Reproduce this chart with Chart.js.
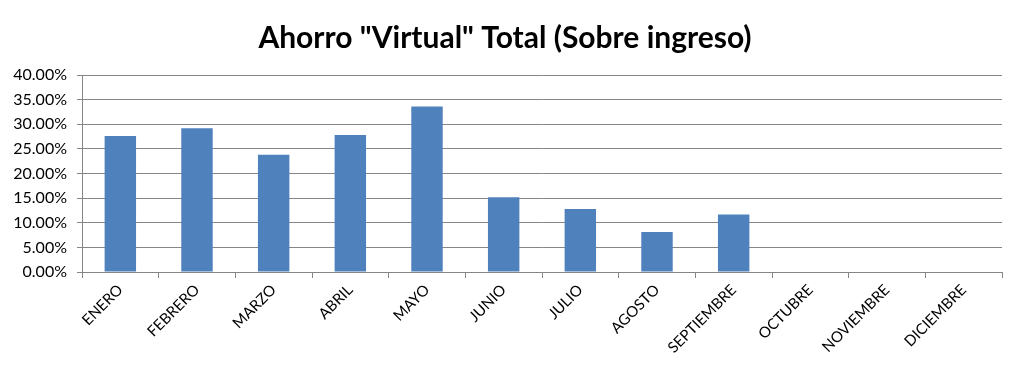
<!DOCTYPE html>
<html>
<head>
    <title>Ahorro Virtual Total</title>
    <script src="https://cdn.jsdelivr.net/npm/chart.js"></script>
    <style>
        html, body { margin: 0; padding: 0; background: #fff; }
        .container { width: 1024px; height: 376px; position: relative; }
    </style>
</head>
<body>
<div class="container">
    <canvas id="barChart" width="1024" height="376"></canvas>
</div>

<script>
    const months = [
        'ENERO', 'FEBRERO', 'MARZO', 'ABRIL', 'MAYO', 'JUNIO',
        'JULIO', 'AGOSTO', 'SEPTIEMBRE', 'OCTUBRE', 'NOVIEMBRE', 'DICIEMBRE'
    ];
    // ahorro en % del ingreso (meses sin dato quedan null)
    const ahorro = [27.6, 29.2, 23.8, 27.8, 33.6, 15.2, 12.8, 8.1, 11.7, null, null, null];
    const yTicks = [0, 5, 10, 15, 20, 25, 30, 35, 40];

    const ctx = document.getElementById('barChart').getContext('2d');

    new Chart(ctx, {
        type: 'bar',
        data: {
            labels: months,
            datasets: [{
                label: 'Ahorro',
                data: ahorro,
                backgroundColor: '#4F81BD',
                borderWidth: 0,
                barPercentage: 0.41,
                categoryPercentage: 1.0
            }]
        },
        options: {
            responsive: false,
            animation: false,
            layout: { padding: { left: 8, right: 22, top: 0, bottom: 0 } },
            plugins: {
                legend: { display: false },
                tooltip: { enabled: false },
                title: {
                    display: true,
                    text: 'Ahorro "Virtual" Total (Sobre ingreso)',
                    color: '#000',
                    font: { family: 'Lato', size: 30, weight: 'bold' },
                    padding: { top: 20, bottom: 19 }
                }
            },
            scales: {
                x: {
                    grid: {
                        drawOnChartArea: false,
                        color: '#868686',
                        tickLength: 6
                    },
                    border: { color: '#868686' },
                    ticks: {
                        color: '#000',
                        font: { family: 'Lato', size: 15 },
                        maxRotation: 45,
                        minRotation: 45,
                        autoSkip: false
                    },
                    afterFit: function (scale) { scale.height = 104; }
                },
                y: {
                    min: 0,
                    max: 40,
                    afterBuildTicks: function (scale) {
                        scale.ticks = yTicks.map(v => ({ value: v }));
                    },
                    grid: { color: '#868686', tickLength: 5 },
                    border: { color: '#868686' },
                    ticks: {
                        color: '#000',
                        font: { family: 'Lato', size: 16 },
                        padding: 10,
                        callback: v => v.toFixed(2) + '%'
                    },
                    afterFit: function (scale) { scale.width = 74; }
                }
            }
        }
    });
</script>
</body>
</html>
